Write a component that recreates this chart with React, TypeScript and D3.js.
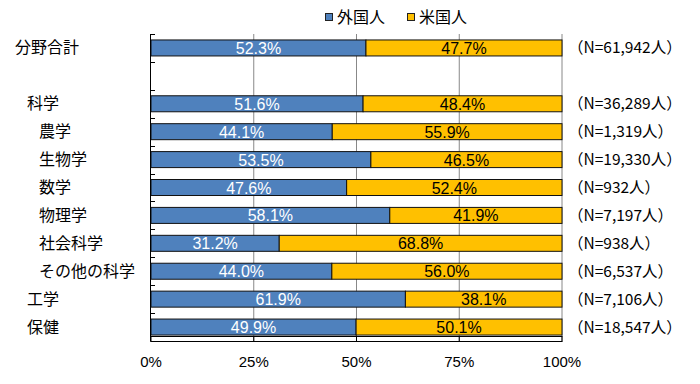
import React, { useEffect, useRef } from "react";
import * as d3 from "d3";

// categories (blank row kept as empty string between total and fields)
const categories = ["分野合計", "", "科学", "農学", "生物学", "数学", "物理学", "社会科学", "その他の科学", "工学", "保健"];
const indent = [0, 0, 1, 2, 2, 2, 2, 2, 2, 1, 1];
const foreign = [52.3, null, 51.6, 44.1, 53.5, 47.6, 58.1, 31.2, 44.0, 61.9, 49.9];
const american = [47.7, null, 48.4, 55.9, 46.5, 52.4, 41.9, 68.8, 56.0, 38.1, 50.1];
const counts = ["61,942", "", "36,289", "1,319", "19,330", "932", "7,197", "938", "6,537", "7,106", "18,547"];
const seriesNames = ["外国人", "米国人"];
const colors = ["#4f81bd", "#ffc000"];
const xTicks = [0, 25, 50, 75, 100];

const App = () => {
  const svgRef = useRef<SVGSVGElement | null>(null);

  useEffect(() => {
    const width = 700;
    const height = 384;
    const margin = { top: 34, right: 138, bottom: 43, left: 151 };
    const jp = "'Noto Sans CJK JP', 'Noto Sans', sans-serif";
    const num = "'Liberation Sans Narrow', 'Liberation Sans', Arial, sans-serif";

    const svg = d3.select(svgRef.current)
      .attr("width", width)
      .attr("height", height);
    svg.selectAll("*").remove();

    const x = d3.scaleLinear().domain([0, 100]).range([margin.left, width - margin.right]);
    const y = d3
      .scaleBand<number>()
      .domain(categories.map((_, i) => i))
      .range([margin.top, height - margin.bottom])
      .paddingInner(0.46)
      .paddingOuter(0.23);
    const step = y.step();
    const bottom = height - margin.bottom;

    // gridlines
    svg.append("g")
      .selectAll("line")
      .data(xTicks.slice(1))
      .enter()
      .append("line")
      .attr("x1", (d) => x(d))
      .attr("x2", (d) => x(d))
      .attr("y1", margin.top)
      .attr("y2", bottom)
      .attr("stroke", "#888")
      .attr("stroke-width", 1);

    // bars
    const rows = categories
      .map((c, i) => ({ i, f: foreign[i], a: american[i] }))
      .filter((d) => d.f !== null);

    const bh = 16;
    const by = (i: number) => y(i)! + y.bandwidth() / 2 - bh / 2;

    svg.selectAll(".barF")
      .data(rows)
      .enter()
      .append("rect")
      .attr("x", x(0))
      .attr("y", (d) => by(d.i))
      .attr("width", (d) => x(d.f!) - x(0))
      .attr("height", bh)
      .attr("fill", colors[0])
      .attr("stroke", "#111")
      .attr("stroke-width", 1);

    svg.selectAll(".barA")
      .data(rows)
      .enter()
      .append("rect")
      .attr("x", (d) => x(d.f!))
      .attr("y", (d) => by(d.i))
      .attr("width", (d) => x(d.f! + d.a!) - x(d.f!))
      .attr("height", bh)
      .attr("fill", colors[1])
      .attr("stroke", "#111")
      .attr("stroke-width", 1);

    // value labels
    svg.selectAll(".lblF")
      .data(rows)
      .enter()
      .append("text")
      .attr("x", (d) => x(d.f! / 2))
      .attr("y", (d) => by(d.i) + bh / 2 + 6)
      .attr("text-anchor", "middle")
      .attr("font-family", num)
      .attr("font-size", 16)
      .attr("fill", "#fff")
      .text((d) => d.f!.toFixed(1) + "%");

    svg.selectAll(".lblA")
      .data(rows)
      .enter()
      .append("text")
      .attr("x", (d) => x(d.f! + d.a! / 2))
      .attr("y", (d) => by(d.i) + bh / 2 + 6)
      .attr("text-anchor", "middle")
      .attr("font-family", num)
      .attr("font-size", 16)
      .attr("fill", "#000")
      .text((d) => d.a!.toFixed(1) + "%");

    // left axis with inward ticks at band boundaries
    const axis = svg.append("g").attr("stroke", "#000").attr("stroke-width", 1);
    axis.append("line")
      .attr("x1", x(0) - 0.5).attr("x2", x(0) - 0.5)
      .attr("y1", margin.top).attr("y2", bottom + 0.5);
    axis.selectAll(".ytick")
      .data(d3.range(categories.length))
      .enter()
      .append("line")
      .attr("x1", x(0) - 0.5)
      .attr("x2", x(0) + 4)
      .attr("y1", (d) => Math.round(margin.top + d * step) + 0.5)
      .attr("y2", (d) => Math.round(margin.top + d * step) + 0.5);

    // bottom axis, inward ticks and inner line
    axis.append("line")
      .attr("x1", x(0) - 0.5).attr("x2", x(100) + 0.5)
      .attr("y1", bottom + 0.5).attr("y2", bottom + 0.5);
    axis.append("line")
      .attr("x1", x(0) - 0.5).attr("x2", x(100) + 0.5)
      .attr("y1", bottom - 4.5).attr("y2", bottom - 4.5);
    axis.selectAll(".xtick")
      .data(xTicks)
      .enter()
      .append("line")
      .attr("x1", (d) => x(d))
      .attr("x2", (d) => x(d))
      .attr("y1", bottom - 4.5)
      .attr("y2", bottom + 0.5);

    svg.append("g")
      .selectAll("text")
      .data(xTicks)
      .enter()
      .append("text")
      .attr("x", (d) => x(d))
      .attr("y", bottom + 26)
      .attr("text-anchor", "middle")
      .attr("font-family", num)
      .attr("font-size", 15)
      .attr("fill", "#000")
      .text((d) => d + "%");

    // category labels
    svg.append("g")
      .selectAll("text")
      .data(categories)
      .enter()
      .append("text")
      .attr("x", (_, i) => 15 + indent[i] * 12)
      .attr("y", (_, i) => y(i)! + y.bandwidth() / 2 + 5.5)
      .attr("font-family", jp)
      .attr("font-size", 16)
      .attr("fill", "#000")
      .text((d) => d);

    // N labels
    svg.append("g")
      .selectAll("text")
      .data(counts)
      .enter()
      .append("text")
      .attr("x", x(100) + 6)
      .attr("y", (_, i) => y(i)! + y.bandwidth() / 2 + 5.5)
      .attr("font-family", jp)
      .attr("font-size", 15.5)
      .attr("fill", "#000")
      .text((d) => (d ? `（N=${d}人）` : ""));

    // legend
    const legend = svg.append("g");
    const lx = [325, 407];
    seriesNames.forEach((name, i) => {
      legend.append("rect")
        .attr("x", lx[i] + 0.5)
        .attr("y", 13.5)
        .attr("width", 7)
        .attr("height", 7)
        .attr("fill", colors[i])
        .attr("stroke", "#222");
      legend.append("text")
        .attr("x", lx[i] + 12)
        .attr("y", 23)
        .attr("font-family", jp)
        .attr("font-size", 16)
        .attr("fill", "#000")
        .text(name);
    });
  }, []);

  return (
    <div style={{ position: "absolute", left: 0, top: 0 }}>
      <svg ref={svgRef}></svg>
    </div>
  );
};

export default App;
